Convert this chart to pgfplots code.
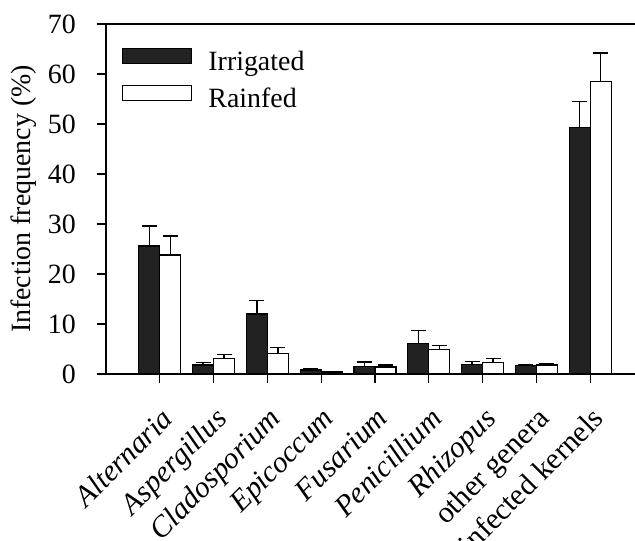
\documentclass[border=0pt]{standalone}
\usepackage{fontspec}
\setmainfont{Liberation Serif}
\usepackage{pgfplots}
\usepackage{pgfplotstable}
\pgfplotsset{compat=1.18}

\definecolor{barblack}{HTML}{222222}
\newcommand{\chartfont}{\fontsize{28}{32}\selectfont}

% idx irrigated err rainfed err
\pgfplotstableread{
x  irr   irrerr  rain  rainerr
0  25.6  4.0     23.8  3.8
1  1.8   0.5     3.1   0.8
2  12.0  2.7     4.1   1.2
3  0.8   0.2     0.4   0.1
4  1.5   0.9     1.4   0.4
5  6.1   2.6     4.9   0.8
6  1.9   0.6     2.3   0.8
7  1.7   0.2     1.8   0.3
8  49.3  5.2     58.5  5.7
}\fungi

\begin{document}
\begin{tikzpicture}
\begin{axis}[
    at={(0,0)}, anchor=south west,
    scale only axis,
    width=531bp, height=350bp,
    xmin=-1, xmax=8.87,
    ymin=0, ymax=70,
    ytick={0,10,...,70},
    xtick=data,
    xticklabels={\textit{Alternaria},\textit{Aspergillus},\textit{Cladosporium},\textit{Epicoccum},\textit{Fusarium},\textit{Penicillium},\textit{Rhizopus},other genera,uninfected kernels},
    xtick pos=bottom, ytick pos=left,
    tick align=outside,
    major tick length=9bp,
    axis line style={line width=1.3bp},
    every tick/.style={line width=1.3bp, black},
    /pgf/number format/assume math mode=true,
    tick label style={font=\chartfont},
    y tick label style={inner sep=0pt, xshift=-21bp},
    x tick label style={font=\fontsize{30}{34}\selectfont, rotate=45, anchor=north east, inner sep=0pt, yshift=-16bp, xshift=-16bp},
    ylabel={Infection frequency (\%)},
    every axis y label/.style={at={(axis description cs:0,0.5)}, xshift=-82bp, rotate=90, anchor=center, font=\chartfont},
    ybar=0pt,
    bar width=21bp,
    legend cell align=left,
    legend style={at={(axis description cs:0.030,0.932)}, anchor=north west, draw=none, fill=none,
        inner sep=0pt, font=\chartfont, row sep=9bp,
        nodes={inner sep=0pt, text height=19bp, text depth=6bp}},
    legend image code/.code={\draw[#1, line width=1.3bp] (0bp,0bp) rectangle (69bp,15bp); \path (85bp,0bp);},
    error bars/y dir=plus,
    error bars/y explicit,
    error bars/error bar style={line width=1.3bp, black},
    error bars/error mark options={rotate=90, mark size=7.5bp, line width=1.3bp, black},
]
\addplot[fill=barblack, draw=black, line width=1.3bp] table[x=x, y=irr, y error=irrerr] {\fungi};
\addlegendentry{Irrigated}
\addplot[fill=white, draw=black, line width=1.3bp] table[x=x, y=rain, y error=rainerr] {\fungi};
\addlegendentry{Rainfed}
\end{axis}
\pgfresetboundingbox
\path[use as bounding box] (-106bp,-167bp) rectangle (529bp,374bp);
\end{tikzpicture}
\end{document}
